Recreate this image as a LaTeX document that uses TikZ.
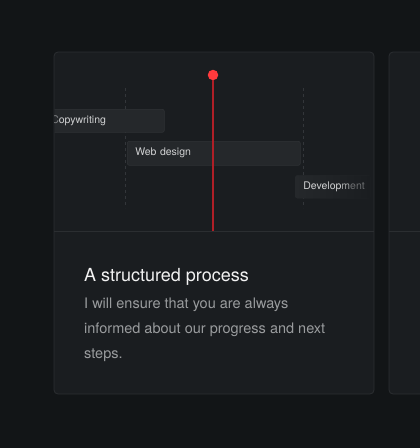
\documentclass[tikz,border=0pt]{standalone}
\usepackage{fontspec}
\setmainfont{TeX Gyre Heros}
\definecolor{pagebg}{HTML}{121517}
\definecolor{cardbg}{HTML}{1A1D20}
\definecolor{cardline}{HTML}{2B2E31}
\definecolor{taskbg}{HTML}{25282B}
\definecolor{taskline}{HTML}{2F3235}
\definecolor{guide}{HTML}{33363A}
\definecolor{pin}{HTML}{FF3A3D}
\definecolor{pinline}{HTML}{B01F27}
\definecolor{headtext}{HTML}{F2F2F2}
\definecolor{tasktext}{HTML}{D0D1D2}
\definecolor{bodytext}{HTML}{9A9C9E}
\tikzset{
  card/.style={fill=cardbg,draw=cardline,line width=0.8pt,rounded corners=4pt},
  task/.style={fill=taskbg,draw=taskline,line width=0.6pt,rounded corners=2pt,
    anchor=north west,inner xsep=8pt,inner ysep=0pt,minimum height=23pt,
    align=left,text=tasktext,font=\fontsize{10.5}{12}\selectfont},
  guideline/.style={guide,line width=0.8pt,dash pattern=on 3pt off 3pt}
}
\begin{document}
\begin{tikzpicture}[x=1pt,y=-1pt]
  \useasboundingbox[fill=pagebg] (0,0) rectangle (420,448);
  % cards
  \draw[card] (54,52) rectangle (374,394);
  \draw[card] (389,52) rectangle (440,394);
  \draw[cardline,line width=0.8pt] (54,231) -- (374,231);
  \draw[cardline,line width=0.8pt] (389,231) -- (420,231);
  % timeline
  \begin{scope}
    \clip (54.5,52.5) rectangle (373.5,230.5);
    \draw[guideline] (125,88) -- (125,208);
    \draw[guideline] (303,88) -- (303,208);
    \node[task,text width=59pt,draw=none,left color=taskbg,middle color=taskbg,
      right color=cardbg] (dev) at (295,175)
      {Develop\textcolor{tasktext!75!cardbg}{m}\textcolor{tasktext!45!cardbg}{ent}};
    \node[task,text width=105pt] (copy) at (43,109)
      {\textcolor{tasktext!55!cardbg}{C}opywriting};
    \node[task,text width=157pt,minimum height=24pt] (web) at (127,141) {Web design};
  \end{scope}
  \coordinate (base) at (213,231);
  \node[circle,fill=pin,minimum size=10.5pt,inner sep=0pt] (dot) at (213,75) {};
  \draw[color=pinline,line width=1.15pt] (dot.south) -- (base);
  % text
  \node[anchor=base west,inner sep=0pt,text=headtext,
    font=\fontsize{18}{21}\selectfont] (title) at (84,281) {A structured process};
  \node[anchor=north west,inner sep=0pt,text=bodytext,align=left,
    font=\fontsize{14.5}{25}\selectfont] (body) at (84,298)
    {I will ensure that you are always\\informed about our progress and next\\steps.};
\end{tikzpicture}
\end{document}
